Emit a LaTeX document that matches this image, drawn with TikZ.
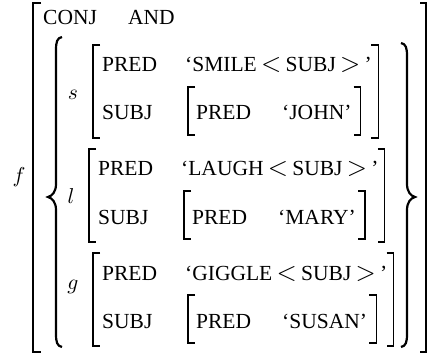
\documentclass[tikz,border=0pt]{standalone}
\usepackage{graphicx}
\usepackage{fontspec}
\setmainfont{Liberation Serif}
\usetikzlibrary{calc}
\newcommand\mainfs{\fontsize{21.5pt}{26pt}\selectfont}
\newcommand\mth[1]{\scalebox{2.15}{\normalsize$#1$}}
\newcommand\rel[1]{\hspace{0.2em}\scalebox{2.6}{\normalsize$#1$}\hspace{0.2em}}
\begin{document}
\begin{tikzpicture}[x=1pt,y=-1pt,
  t/.style={anchor=base west, inner sep=0pt, font=\mainfs},
  lab/.style={anchor=center, inner sep=0pt, font=\mainfs},
  br/.style={line width=1.1pt},
  brace/.style={line width=2.2pt}]
\useasboundingbox (0,0) rectangle (428,358);
% outer structure
\node[lab] (f) at (19,177) {\mth{f}};
\draw[br] (41,3) -- (33,3) -- (33,352) -- (41,352);
\draw[br] (420,3) -- (426,3) -- (426,352) -- (420,352);
\node[t] (conj) at (43,25) {CONJ};
\node[t] (and) at (128,25) {AND};
% braces
\draw[brace] (62,37) .. controls (57,38) and (56,42) .. (56,50) -- (56,184)
  .. controls (56,192) and (52,196) .. (48,197)
  .. controls (52,198) and (56,202) .. (56,210) -- (56,334)
  .. controls (56,342) and (57,346) .. (62,347);
\draw[brace] (401,43) .. controls (406,44) and (407,48) .. (407,56) -- (407,184)
  .. controls (407,192) and (411,196) .. (415,197)
  .. controls (411,198) and (407,202) .. (407,210) -- (407,334)
  .. controls (407,342) and (406,346) .. (401,347);
% s
\node[lab] (s) at (73,95) {\mth{s}};
\draw[br] (100,45) -- (93,45) -- (93,138) -- (100,138);
\node[t] (sp) at (102,72) {PRED};
\node[t] (sv) at (185,72) {‘SMILE\rel{<}SUBJ\rel{>}’};
\node[t] (ss) at (102,120) {SUBJ};
\draw[br] (195,87) -- (188,87) -- (188,135) -- (195,135);
\node[t] (sip) at (196,120) {PRED};
\node[t] (siv) at (282,120) {‘JOHN’};
\draw[br] ([xshift=9pt]siv.east |- 0,87) ++(-7,0) -- ++(7,0) -- ([xshift=9pt]siv.east |- 0,135) -- ++(-7,0);
\draw[br] ([xshift=6pt]sv.east |- 0,45) ++(-7,0) -- ++(7,0) -- ([xshift=6pt]sv.east |- 0,138) -- ++(-7,0);
% l
\node[lab] (l) at (71,196) {\mth{l}};
\draw[br] (96,149) -- (89,149) -- (89,242) -- (96,242);
\node[t] (lp) at (98,176) {PRED};
\node[t] (lv) at (181,176) {‘LAUGH\rel{<}SUBJ\rel{>}’};
\node[t] (ls) at (98,224) {SUBJ};
\draw[br] (191,191) -- (184,191) -- (184,239) -- (191,239);
\node[t] (lip) at (192,224) {PRED};
\node[t] (liv) at (278,224) {‘MARY’};
\draw[br] ([xshift=9pt]liv.east |- 0,191) ++(-7,0) -- ++(7,0) -- ([xshift=9pt]liv.east |- 0,239) -- ++(-7,0);
\draw[br] ([xshift=6pt]lv.east |- 0,149) ++(-7,0) -- ++(7,0) -- ([xshift=6pt]lv.east |- 0,242) -- ++(-7,0);
% g
\node[lab] (g) at (73,287) {\mth{g}};
\draw[br] (100,253) -- (93,253) -- (93,346) -- (100,346);
\node[t] (gp) at (102,280) {PRED};
\node[t] (gv) at (185,280) {‘GIGGLE\rel{<}SUBJ\rel{>}’};
\node[t] (gs) at (102,328) {SUBJ};
\draw[br] (195,295) -- (188,295) -- (188,343) -- (195,343);
\node[t] (gip) at (196,328) {PRED};
\node[t] (giv) at (282,328) {‘SUSAN’};
\draw[br] ([xshift=9pt]giv.east |- 0,295) ++(-7,0) -- ++(7,0) -- ([xshift=9pt]giv.east |- 0,343) -- ++(-7,0);
\draw[br] ([xshift=6pt]gv.east |- 0,253) ++(-7,0) -- ++(7,0) -- ([xshift=6pt]gv.east |- 0,346) -- ++(-7,0);
\end{tikzpicture}
\end{document}
